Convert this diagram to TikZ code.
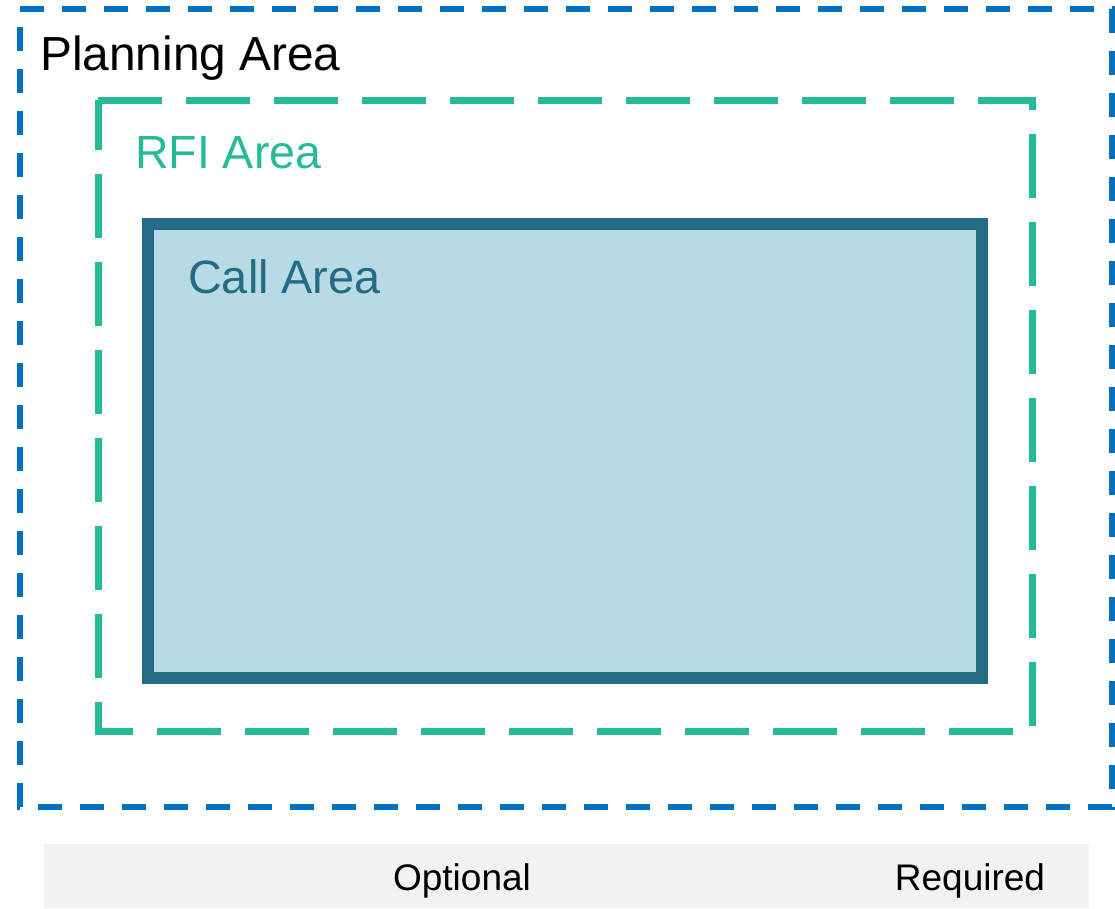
\documentclass[tikz,border=0pt]{standalone}
\usepackage{fontspec}
\setmainfont{Liberation Sans}
\definecolor{planblue}{HTML}{0070C0}
\definecolor{rfigreen}{HTML}{26BB98}
\definecolor{calldark}{HTML}{246B87}
\definecolor{callfill}{HTML}{B8DAE5}
\definecolor{barfill}{HTML}{F2F2F2}
\tikzset{
  planbox/.style={draw=planblue, line width=5.5pt, dash pattern=on 24pt off 18pt},
  rfibox/.style={draw=rfigreen, line width=7pt, dash pattern=on 64pt off 24pt},
  callbox/.style={draw=calldark, fill=callfill, line width=12pt},
  lbl/.style={anchor=base west, inner sep=0pt},
}
\begin{document}
\begin{tikzpicture}[x=1pt,y=-1pt]
\useasboundingbox (0,0) rectangle (1115,908);
% boxes
\draw[planbox] (20,9) -- (1112,9) -- (1112,807) -- (20,807) -- cycle;
\draw[rfibox] (98,100) -- (1032,100) -- (1032,731) -- (98,731) -- cycle;
\draw[callbox] (148,224) rectangle (982,678);
% labels
\node[lbl, font=\fontsize{47.8}{56}\selectfont, text=black] (plan) at (40,70) {Planning Area};
\node[lbl, font=\fontsize{46.5}{55}\selectfont, text=rfigreen] (rfi) at (135,168) {RFI Area};
\node[lbl, font=\fontsize{46.8}{55}\selectfont, text=calldark] (call) at (188,293) {Call Area};
% bottom bar
\fill[barfill] (44,844) rectangle (1089,908);
\node[anchor=base, inner sep=0pt, font=\fontsize{37}{44}\selectfont] (opt) at (462,890) {Optional};
\node[anchor=base, inner sep=0pt, font=\fontsize{37}{44}\selectfont] (req) at (970,890) {Required};
\end{tikzpicture}
\end{document}
